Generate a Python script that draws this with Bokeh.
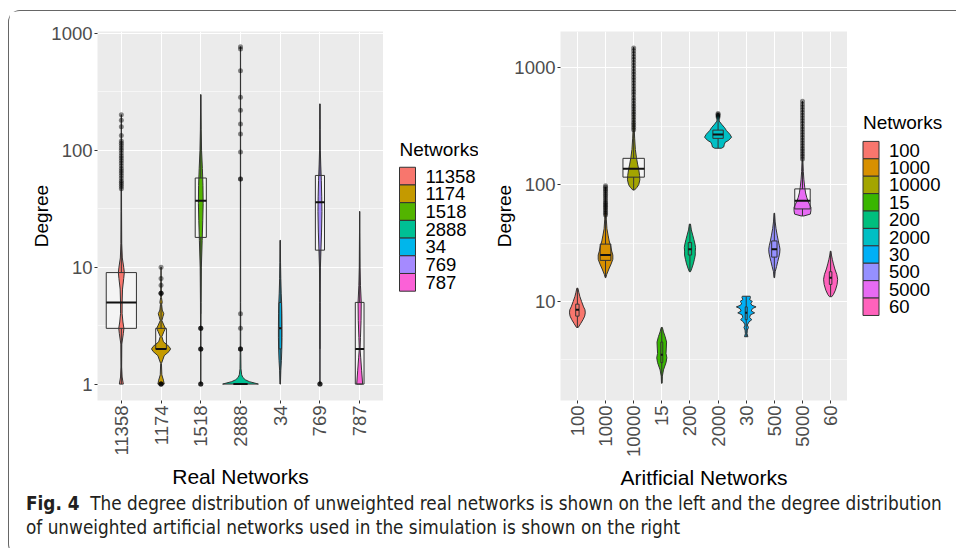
import math
from bokeh.plotting import figure
from bokeh.models import Range1d, FixedTicker, Div
from bokeh.layouts import row, column
from bokeh.core.properties import value
from bokeh.embed import file_html
from bokeh.resources import INLINE

# ---------------- data: real networks ----------------
real_networks = ["11358", "1174", "1518", "2888", "34", "769", "787"]
real_violin_deg = [
    [1, 1.15, 1.4, 2.2, 2.7, 3, 3.4, 4, 5, 6.5, 8, 9, 10, 12, 16, 30, 60, 120, 202],
    [1, 1.08, 1.2, 1.5, 1.75, 1.9, 2, 2.1, 2.3, 2.55, 2.8, 3, 3.2, 3.5, 3.8, 4, 4.3, 4.8, 5, 5.5, 6.5, 8, 10],
    [1, 2, 5, 10, 17, 25, 35, 50, 70, 100, 150, 300],
    [1, 1.02, 1.05, 1.09, 1.14, 1.2, 1.35, 2, 5, 20, 100, 770],
    [1, 1.3, 1.6, 2, 2.5, 3, 4, 5, 6, 8, 11, 17],
    [1, 2, 5, 10, 14, 20, 30, 40, 55, 75, 100, 150, 250],
    [1, 1.3, 1.7, 2, 2.5, 3.5, 5, 7, 10, 20, 30],
]
real_violin_hw = [
    [0.05, 0.02, 0.008, 0.012, 0.05, 0.065, 0.04, 0.02, 0.02, 0.03, 0.06, 0.075, 0.06, 0.025, 0.01, 0.006, 0.004, 0.003, 0.002],
    [0.08, 0.06, 0.02, 0.01, 0.08, 0.2, 0.24, 0.2, 0.06, 0.02, 0.07, 0.11, 0.07, 0.02, 0.05, 0.07, 0.03, 0.015, 0.03, 0.01, 0.008, 0.005, 0.003],
    [0.004, 0.005, 0.008, 0.015, 0.035, 0.05, 0.06, 0.055, 0.04, 0.02, 0.01, 0.003],
    [0.45, 0.36, 0.22, 0.12, 0.06, 0.03, 0.012, 0.006, 0.004, 0.003, 0.003, 0.002],
    [0.005, 0.015, 0.03, 0.04, 0.045, 0.045, 0.042, 0.035, 0.025, 0.015, 0.008, 0.003],
    [0.003, 0.004, 0.006, 0.012, 0.025, 0.04, 0.05, 0.045, 0.035, 0.02, 0.01, 0.005, 0.002],
    [0.075, 0.05, 0.025, 0.01, 0.02, 0.035, 0.04, 0.02, 0.01, 0.004, 0.002],
]
real_q1 = [3, 2, 18, 1, 2, 14, 1]
real_med = [5, 2, 37, 1, 3, 36, 2]
real_q3 = [9, 3, 58, 1, 5, 61, 5]
real_whisk_lo = [1, 2, 4, 1, 1, 2, 1]
real_whisk_hi = [47, 5, 300, 1, 17, 250, 30]
real_box_w = [0.76, 0.27, 0.28, 0.35, 0.06, 0.23, 0.22]
real_outliers = [
    [47, 49, 51, 53, 55, 58, 61, 64, 67, 70, 74, 78, 82, 86, 90, 95, 100, 105, 110, 115, 120, 134, 159, 181, 202],
    [1, 1, 1, 1, 6, 6, 6, 7, 8, 10],
    [1, 1, 1, 2, 2, 2, 3, 3, 3],
    [2, 2, 2, 3, 4, 57, 57, 97, 138, 168, 220, 285, 480, 735, 770],
    [],
    [1, 1, 1],
    [],
]
real_yticks = [1, 10, 100, 1000]
real_yminor = [3.162, 31.62, 316.2]

# ---------------- data: artificial networks ----------------
art_networks = ["100", "1000", "10000", "15", "200", "2000", "30", "500", "5000", "60"]
art_violin_deg = [
    [6, 6.5, 7, 7.5, 8, 8.5, 9, 10, 11, 12, 13],
    [16, 17, 19, 21, 23, 25, 27, 30, 33, 37, 42, 50, 60, 75, 95],
    [90, 95, 100, 110, 120, 135, 150, 170, 200, 250, 300, 500, 1000, 1500],
    [2, 2.3, 2.6, 3, 3.3, 3.6, 4, 4.5, 5, 5.5, 6],
    [18, 19, 21, 23, 25, 27, 29, 31, 34, 37, 41, 46],
    [205, 210, 220, 230, 240, 255, 270, 290, 310, 330, 350, 370, 390, 406],
    [5, 5.3, 5.7, 6, 6.3, 6.7, 7, 7.3, 7.7, 8, 8.3, 8.7, 9, 9.3, 9.7, 10, 10.4, 10.8, 11.1],
    [16, 18, 20, 22, 24, 26, 28, 30, 33, 37, 42, 48, 57],
    [54, 56, 60, 64, 68, 72, 78, 85, 95, 110, 130, 160, 250, 517],
    [11, 11.5, 12.5, 14, 15.5, 17, 19, 21, 23, 25, 27],
]
art_violin_hw = [
    [0.03, 0.12, 0.2, 0.26, 0.28, 0.27, 0.22, 0.15, 0.09, 0.05, 0.02],
    [0.01, 0.04, 0.12, 0.2, 0.26, 0.26, 0.22, 0.18, 0.13, 0.09, 0.05, 0.03, 0.015, 0.008, 0.004],
    [0.03, 0.12, 0.18, 0.22, 0.21, 0.18, 0.14, 0.1, 0.06, 0.035, 0.02, 0.01, 0.006, 0.004],
    [0.01, 0.02, 0.06, 0.15, 0.18, 0.15, 0.16, 0.17, 0.12, 0.06, 0.02],
    [0.02, 0.06, 0.12, 0.16, 0.19, 0.19, 0.2, 0.18, 0.14, 0.1, 0.05, 0.02],
    [0.12, 0.2, 0.22, 0.25, 0.38, 0.48, 0.42, 0.3, 0.22, 0.12, 0.04, 0.04, 0.05, 0.02],
    [0.06, 0.03, 0.04, 0.08, 0.04, 0.1, 0.2, 0.12, 0.15, 0.3, 0.18, 0.22, 0.35, 0.2, 0.16, 0.22, 0.12, 0.15, 0.14],
    [0.01, 0.03, 0.08, 0.12, 0.16, 0.19, 0.2, 0.18, 0.14, 0.1, 0.06, 0.03, 0.01],
    [0.05, 0.28, 0.3, 0.3, 0.25, 0.2, 0.15, 0.11, 0.08, 0.05, 0.03, 0.015, 0.006, 0.003],
    [0.04, 0.1, 0.17, 0.23, 0.25, 0.22, 0.15, 0.1, 0.06, 0.03, 0.01],
]
art_q1 = [7.5, 22.5, 116, 3, 25, 249, 7, 24, 62, 14]
art_med = [8.5, 25, 137, 3.5, 28, 269, 8, 28, 73, 16]
art_q3 = [9.5, 31, 168, 4.5, 32, 293, 9, 33, 92, 18]
art_whisk_lo = [6, 16, 90, 2, 18, 205, 5, 16, 54, 11]
art_whisk_hi = [13, 54, 292, 6, 46, 370, 11, 57, 164, 27]
art_box_w = [0.12, 0.38, 0.76, 0.07, 0.12, 0.37, 0.07, 0.19, 0.55, 0.09]
art_outliers = [
    [],
    [55, 57, 59, 61, 63, 65, 67, 69, 71, 74, 77, 80, 83, 86, 89, 92, 95, 98],
    [295, 310, 325, 340, 360, 380, 400, 420, 445, 470, 495, 525, 555, 590, 625, 660, 700, 740,
     785, 830, 880, 930, 985, 1045, 1110, 1175, 1245, 1320, 1400, 1480],
    [],
    [],
    [380, 390, 398, 406],
    [],
    [],
    [166, 175, 184, 194, 204, 215, 227, 240, 253, 267, 282, 298, 315, 333, 352, 372, 393, 415,
     438, 462, 488, 517],
    [],
]
art_yticks = [1, 10, 100, 1000]
art_yminor = [3.162, 31.62, 316.2]
legend_title = "Networks"

# ---------------- styles ----------------
real_colors = ["#F8766D", "#C49A00", "#53B400", "#00C094", "#00B6EB", "#A58AFF", "#FB61D7"]
art_colors = ["#F8766D", "#D89000", "#A3A500", "#39B600", "#00BF7D", "#00BFC4", "#00B0F6",
              "#9590FF", "#E76BF3", "#FF62BC"]
FONT = "Liberation Sans"
PANEL_BG = "#EBEBEB"
DARK = "#333333"
FIG_H = 480
B_TOP = 20
B_BOT = 89


def make_panel(cats, vdeg, vhw, q1, med, q3, wlo, whi, bw, outl, colors, yticks, yminor,
               yr, width, b_left, xtitle):
    n = len(cats)
    p = figure(width=width, height=FIG_H, x_range=Range1d(0.4, n + 0.6), y_range=Range1d(*yr),
               y_axis_type="log", output_backend="svg", toolbar_location=None,
               min_border_left=b_left, min_border_right=0,
               min_border_top=B_TOP, min_border_bottom=B_BOT)
    p.background_fill_color = PANEL_BG
    p.border_fill_color = "white"
    p.outline_line_color = None

    xt = list(range(1, n + 1))
    p.xgrid.ticker = FixedTicker(ticks=xt)
    p.ygrid.ticker = FixedTicker(ticks=yticks, minor_ticks=yminor)
    for g in (p.xgrid, p.ygrid):
        g.grid_line_color = "white"
        g.grid_line_width = 1.1
    p.ygrid.minor_grid_line_color = "white"
    p.ygrid.minor_grid_line_width = 0.55

    for i, c in enumerate(cats):
        x = i + 1
        half = bw[i] / 2
        top = max(q3[i], q1[i] * 1.004)
        p.quad(left=[x - half], right=[x + half], bottom=[q1[i]], top=[top],
               fill_color="white", fill_alpha=0.45, line_color=None)
        d = vdeg[i]
        h = vhw[i]
        xs = [x - w for w in h] + [x + w for w in reversed(h)]
        ys = list(d) + list(reversed(d))
        p.patch(xs, ys, fill_color=colors[i], line_color=DARK, line_width=1)
        p.segment(x0=[x, x], y0=[q3[i], q1[i]], x1=[x, x], y1=[whi[i], wlo[i]],
                  line_color=DARK, line_width=1)
        p.quad(left=[x - half], right=[x + half], bottom=[q1[i]], top=[top],
               fill_color=None, line_color=DARK, line_width=1)
        p.segment(x0=[x - half], y0=[med[i]], x1=[x + half], y1=[med[i]],
                  line_color="#111111", line_width=2)

    ox, oy = [], []
    for i, vals in enumerate(outl):
        for v in vals:
            ox.append(i + 1)
            oy.append(v)
    p.scatter(ox, oy, size=5, fill_color="black", fill_alpha=0.45, line_color=None)

    p.yaxis.ticker = FixedTicker(ticks=yticks)
    p.yaxis.major_label_overrides = {t: str(t) for t in yticks}
    p.xaxis.ticker = FixedTicker(ticks=xt)
    p.xaxis.major_label_overrides = {i + 1: c for i, c in enumerate(cats)}
    p.xaxis.major_label_orientation = math.pi / 2
    for ax in (p.xaxis[0], p.yaxis[0]):
        ax.axis_line_color = None
        ax.major_tick_line_color = DARK
        ax.major_tick_in = 0
        ax.major_tick_out = 3
        ax.minor_tick_line_color = None
        ax.major_label_text_font = FONT
        ax.major_label_text_font_size = "18.5px"
        ax.major_label_text_color = "#4D4D4D"
        ax.major_label_standoff = 2
        ax.axis_label_text_font = FONT
        ax.axis_label_text_font_style = "normal"
        ax.axis_label_text_color = "black"
    p.yaxis.axis_label = "Degree"
    p.yaxis.axis_label_text_font_size = "19px"
    p.yaxis.axis_label_standoff = -4
    p.xaxis.axis_label = xtitle
    p.xaxis.axis_label_text_font_size = "21px"
    p.xaxis.axis_label_standoff = 6
    return p


def make_legend(cats, colors, width, key_left, key_top, key_step, title_y):
    # a plain canvas whose frame lines up with the panels (1 unit = 1 px, y downwards)
    lg = figure(width=width, height=FIG_H, x_range=Range1d(0, width),
                y_range=Range1d(FIG_H - B_BOT, B_TOP),
                output_backend="svg", toolbar_location=None, min_border_left=0,
                min_border_right=0, min_border_top=B_TOP, min_border_bottom=B_BOT,
                x_axis_location=None, y_axis_location=None)
    lg.grid.visible = False
    lg.outline_line_color = None
    lg.background_fill_color = "white"
    lg.border_fill_color = "white"
    n = len(cats)
    ys = [key_top + key_step * (i + 0.5) for i in range(n)]
    lg.rect(x=[key_left + 8] * n, y=ys, width=16, height=key_step, fill_color=colors,
            line_color=DARK, line_width=1)
    lg.text(x=[key_left + 26] * n, y=ys, text=cats, text_font=value(FONT),
            text_font_size="18.5px", text_baseline="middle", text_align="left", text_color="black")
    lg.text(x=[key_left], y=[title_y], text=[legend_title], text_font=value(FONT),
            text_font_size="19px", text_baseline="middle", text_align="left", text_color="black")
    return lg


# page offsets: content starts at (9.5, 11.5)
p1 = make_panel(real_networks, real_violin_deg, real_violin_hw, real_q1, real_med, real_q3,
                real_whisk_lo, real_whisk_hi, real_box_w, real_outliers, real_colors,
                real_yticks, real_yminor, (0.724, 1040), 374, 88, "Real Networks")
l1 = make_legend(real_networks, real_colors, 95, 16, 156.5, 17.8, 138.5)
p2 = make_panel(art_networks, art_violin_deg, art_violin_hw, art_q1, art_med, art_q3,
                art_whisk_lo, art_whisk_hi, art_box_w, art_outliers, art_colors,
                art_yticks, art_yminor, (1.423, 2045), 369, 82, "Aritficial Networks")
l2 = make_legend(art_networks, art_colors, 108, 15.5, 130.5, 17.5, 111.5)

caption_html = (
    '<div style="font-family: \'Liberation Sans Narrow\', \'DejaVu Sans Condensed\', sans-serif; '
    'font-stretch: condensed; font-size: 18.8px; line-height: 24px; color: #231f20; '
    'padding-left: 12px; white-space: nowrap; position: relative; top: -4px;">'
    '<b>Fig. 4</b>&nbsp; The degree distribution of unweighted real networks is shown on the left '
    'and the degree distribution<br>of unweighted artificial networks used in the simulation is '
    'shown on the right</div>'
)
cap = Div(text=caption_html, width=946, height=54)

layout = column(
    row(p1, l1, p2, l2), cap,
    margin=(10, 0, 0, 8),
    styles={"border-top": "1.5px solid #666666", "border-left": "1.5px solid #666666",
            "border-bottom": "1.5px solid #666666",
            "border-top-left-radius": "12px", "border-bottom-left-radius": "12px"},
)

open("out.html", "w").write(file_html(layout, INLINE))
